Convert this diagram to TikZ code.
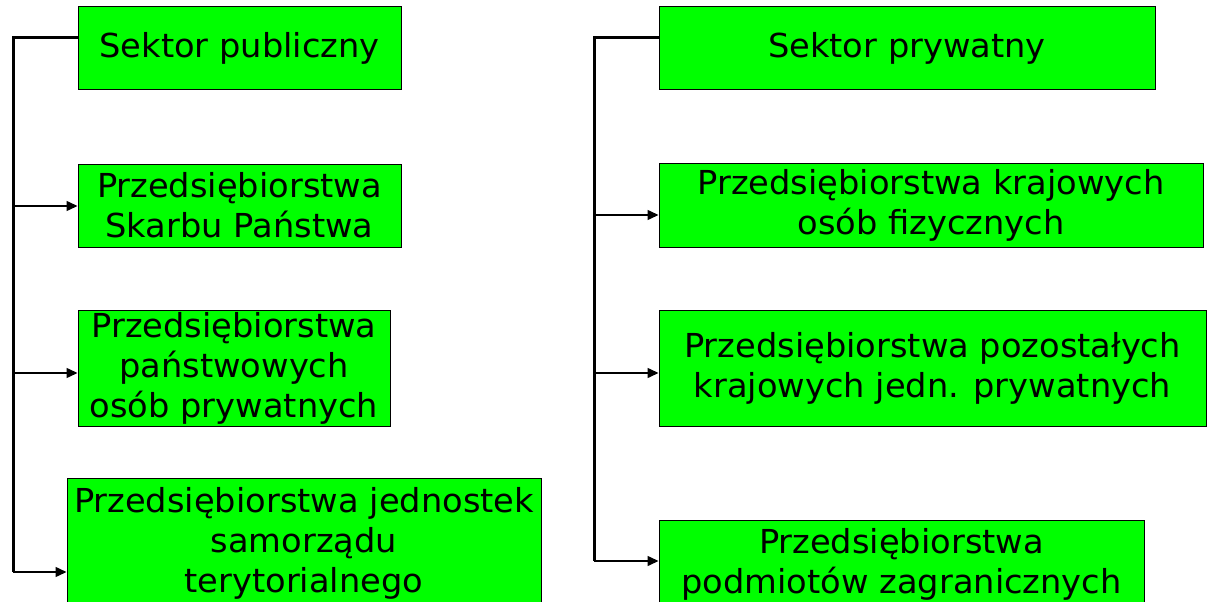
\documentclass[tikz,border=0pt]{standalone}
\usepackage{fontspec}
\setmainfont{DejaVu Sans}[FakeStretch=1.02]
\usetikzlibrary{arrows.meta,calc}
\definecolor{boxgreen}{RGB}{0,255,0}
\tikzset{
  gbox/.style={draw=black,line width=1pt,fill=boxgreen,inner sep=0pt,align=center,
    font=\fontsize{33}{40}\selectfont},
  spine/.style={line width=3pt,black},
  branch/.style={line width=1.5pt,black,-{Triangle[length=11pt,width=10pt]}}
}
\begin{document}
\begin{tikzpicture}[x=1pt,y=-1pt]
\useasboundingbox (0,0) rectangle (1208,602);
\clip (0,0) rectangle (1208,602);
% left column
\node[gbox,minimum width=323pt,minimum height=83pt] (A1) at (239.5,48.5) {Sektor publiczny};
\node[gbox,minimum width=323pt,minimum height=83pt] (A2) at (239.5,205.5) {Przedsiębiorstwa\\Skarbu Państwa};
\node[gbox,minimum width=312pt,minimum height=116pt] (A3) at (234,368) {Przedsiębiorstwa\\państwowych\\osób prywatnych};
\node[gbox,minimum width=474pt,minimum height=130pt] (A4) at (304,543) {Przedsiębiorstwa jednostek\\samorządu\\terytorialnego};
% right column
\node[gbox,minimum width=496pt,minimum height=83pt] (B1) at (907,48.5) {Sektor prywatny};
\node[gbox,minimum width=544pt,minimum height=84pt] (B2) at (931,205) {Przedsiębiorstwa krajowych\\osób fizycznych};
\node[gbox,minimum width=547pt,minimum height=116pt] (B3) at (932.5,368) {Przedsiębiorstwa pozostałych\\krajowych jedn. prywatnych};
\node[gbox,minimum width=485pt,minimum height=88pt] (B4) at (901.5,564) {Przedsiębiorstwa\\podmiotów zagranicznych};
% left connectors
\coordinate (lt) at (13,37.5);
\coordinate (lb) at (13,572);
\coordinate (l2) at (13,206);
\coordinate (l3) at (13,373);
\draw[spine] (lt -| A1.west) -- (lt) -- (lb);
\draw[branch] (l2) -- (l2 -| A2.west);
\draw[branch] (l3) -- (l3 -| A3.west);
\draw[branch] (lb) -- (lb -| A4.west);
% right connectors
\coordinate (rt) at (594,37.5);
\coordinate (rb) at (594,561);
\coordinate (r2) at (594,215);
\coordinate (r3) at (594,373);
\draw[spine] (rt -| B1.west) -- (rt) -- (rb);
\draw[branch] (r2) -- (r2 -| B2.west);
\draw[branch] (r3) -- (r3 -| B3.west);
\draw[branch] (rb) -- (rb -| B4.west);
\end{tikzpicture}
\end{document}
